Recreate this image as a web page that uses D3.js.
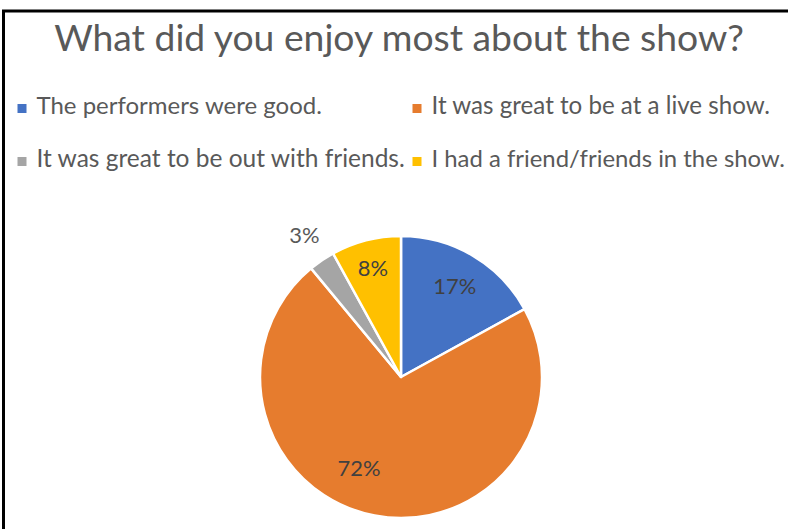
<!DOCTYPE html>
<html>
<head>
<meta charset="utf-8">
<script src="https://cdn.jsdelivr.net/npm/d3@7/dist/d3.min.js"></script>
<style>
  html, body { margin: 0; padding: 0; background: #fff; }
  svg { display: block; }
  text { font-family: Lato, "Open Sans", sans-serif; }
</style>
</head>
<body>
<svg id="chart" width="788" height="529"></svg>
<script>
// Survey answers and their share of responses (%)
const categories = [
  "The performers were good.",
  "It was great to be at a live show.",
  "It was great to be out with friends.",
  "I had a friend/friends in the show."
];
const values = [17, 72, 3, 8];
const colors = ["#4472C4", "#E67C2E", "#A5A5A5", "#FFC000"];
const title = "What did you enjoy most about the show?";

const W = 788, H = 529;
const svg = d3.select("#chart");

svg.append("rect").attr("width", W).attr("height", H).attr("fill", "#fff");

// frame around the chart area
svg.append("path")
  .attr("d", `M3.5,${H} V11 H${W}`)
  .attr("fill", "none")
  .attr("stroke", "#000")
  .attr("stroke-width", 3);

// size a text node so its rendered width equals the given width
function fitWidth(sel, width) {
  sel.attr("font-size", 100);
  const w = sel.node().getComputedTextLength();
  sel.attr("font-size", 100 * width / w);
  return 100 * width / w;
}

// title
const t = svg.append("text")
  .attr("x", 399).attr("y", 51)
  .attr("text-anchor", "middle")
  .attr("fill", "#595959")
  .text(title);
fitWidth(t, 690);

// legend: two columns, two rows; each entry spans from its text start to its right end
const legendCols = [17.5, 412.5];
const legendRows = [114, 167];
const legendEnds = [322, 770, 405, 785];

const legend = svg.append("g");
categories.forEach((c, i) => {
  const col = i % 2, row = Math.floor(i / 2);
  const x = legendCols[col], y = legendRows[row];
  legend.append("rect")
    .attr("x", x).attr("y", y - 10)
    .attr("width", 9).attr("height", 9)
    .attr("fill", colors[i]);
  const tx = legend.append("text")
    .attr("x", x + 19).attr("y", y)
    .attr("fill", "#595959")
    .text(c);
  fitWidth(tx, legendEnds[i] - (x + 19));
});

// pie
const cx = 401, cy = 377, r = 141;
const data = categories.map((c, i) => ({ name: c, value: values[i], color: colors[i] }));
const pie = d3.pie().sort(null).value(d => d.value);
const arcs = pie(data);
const arc = d3.arc().innerRadius(0).outerRadius(r);

const g = svg.append("g").attr("transform", `translate(${cx},${cy})`);
g.selectAll("path.slice")
  .data(arcs)
  .join("path")
  .attr("class", "slice")
  .attr("d", arc)
  .attr("fill", d => d.data.color)
  .attr("stroke", "#fff")
  .attr("stroke-width", 2.5)
  .attr("stroke-linejoin", "round");

// data labels: radial distance (fraction of r) and angular shift per slice
const labelRadius = [0.75, 0.71, 1.22, 0.8];
const labelShift = [0, 14, 0, 0];
const labelColor = ["#404040", "#404040", "#595959", "#404040"];
const lprobe = svg.append("text").text("17%");
const labelSize = fitWidth(lprobe, 43);
lprobe.remove();

g.selectAll("text.lbl")
  .data(arcs)
  .join("text")
  .attr("class", "lbl")
  .attr("text-anchor", "middle")
  .attr("dominant-baseline", "central")
  .attr("font-size", labelSize)
  .attr("fill", (d, i) => labelColor[i])
  .attr("transform", (d, i) => {
    const a = (d.startAngle + d.endAngle) / 2 + labelShift[i] * Math.PI / 180;
    const rr = r * labelRadius[i];
    return `translate(${rr * Math.sin(a)},${-rr * Math.cos(a)})`;
  })
  .text(d => d.data.value + "%");
</script>
</body>
</html>
